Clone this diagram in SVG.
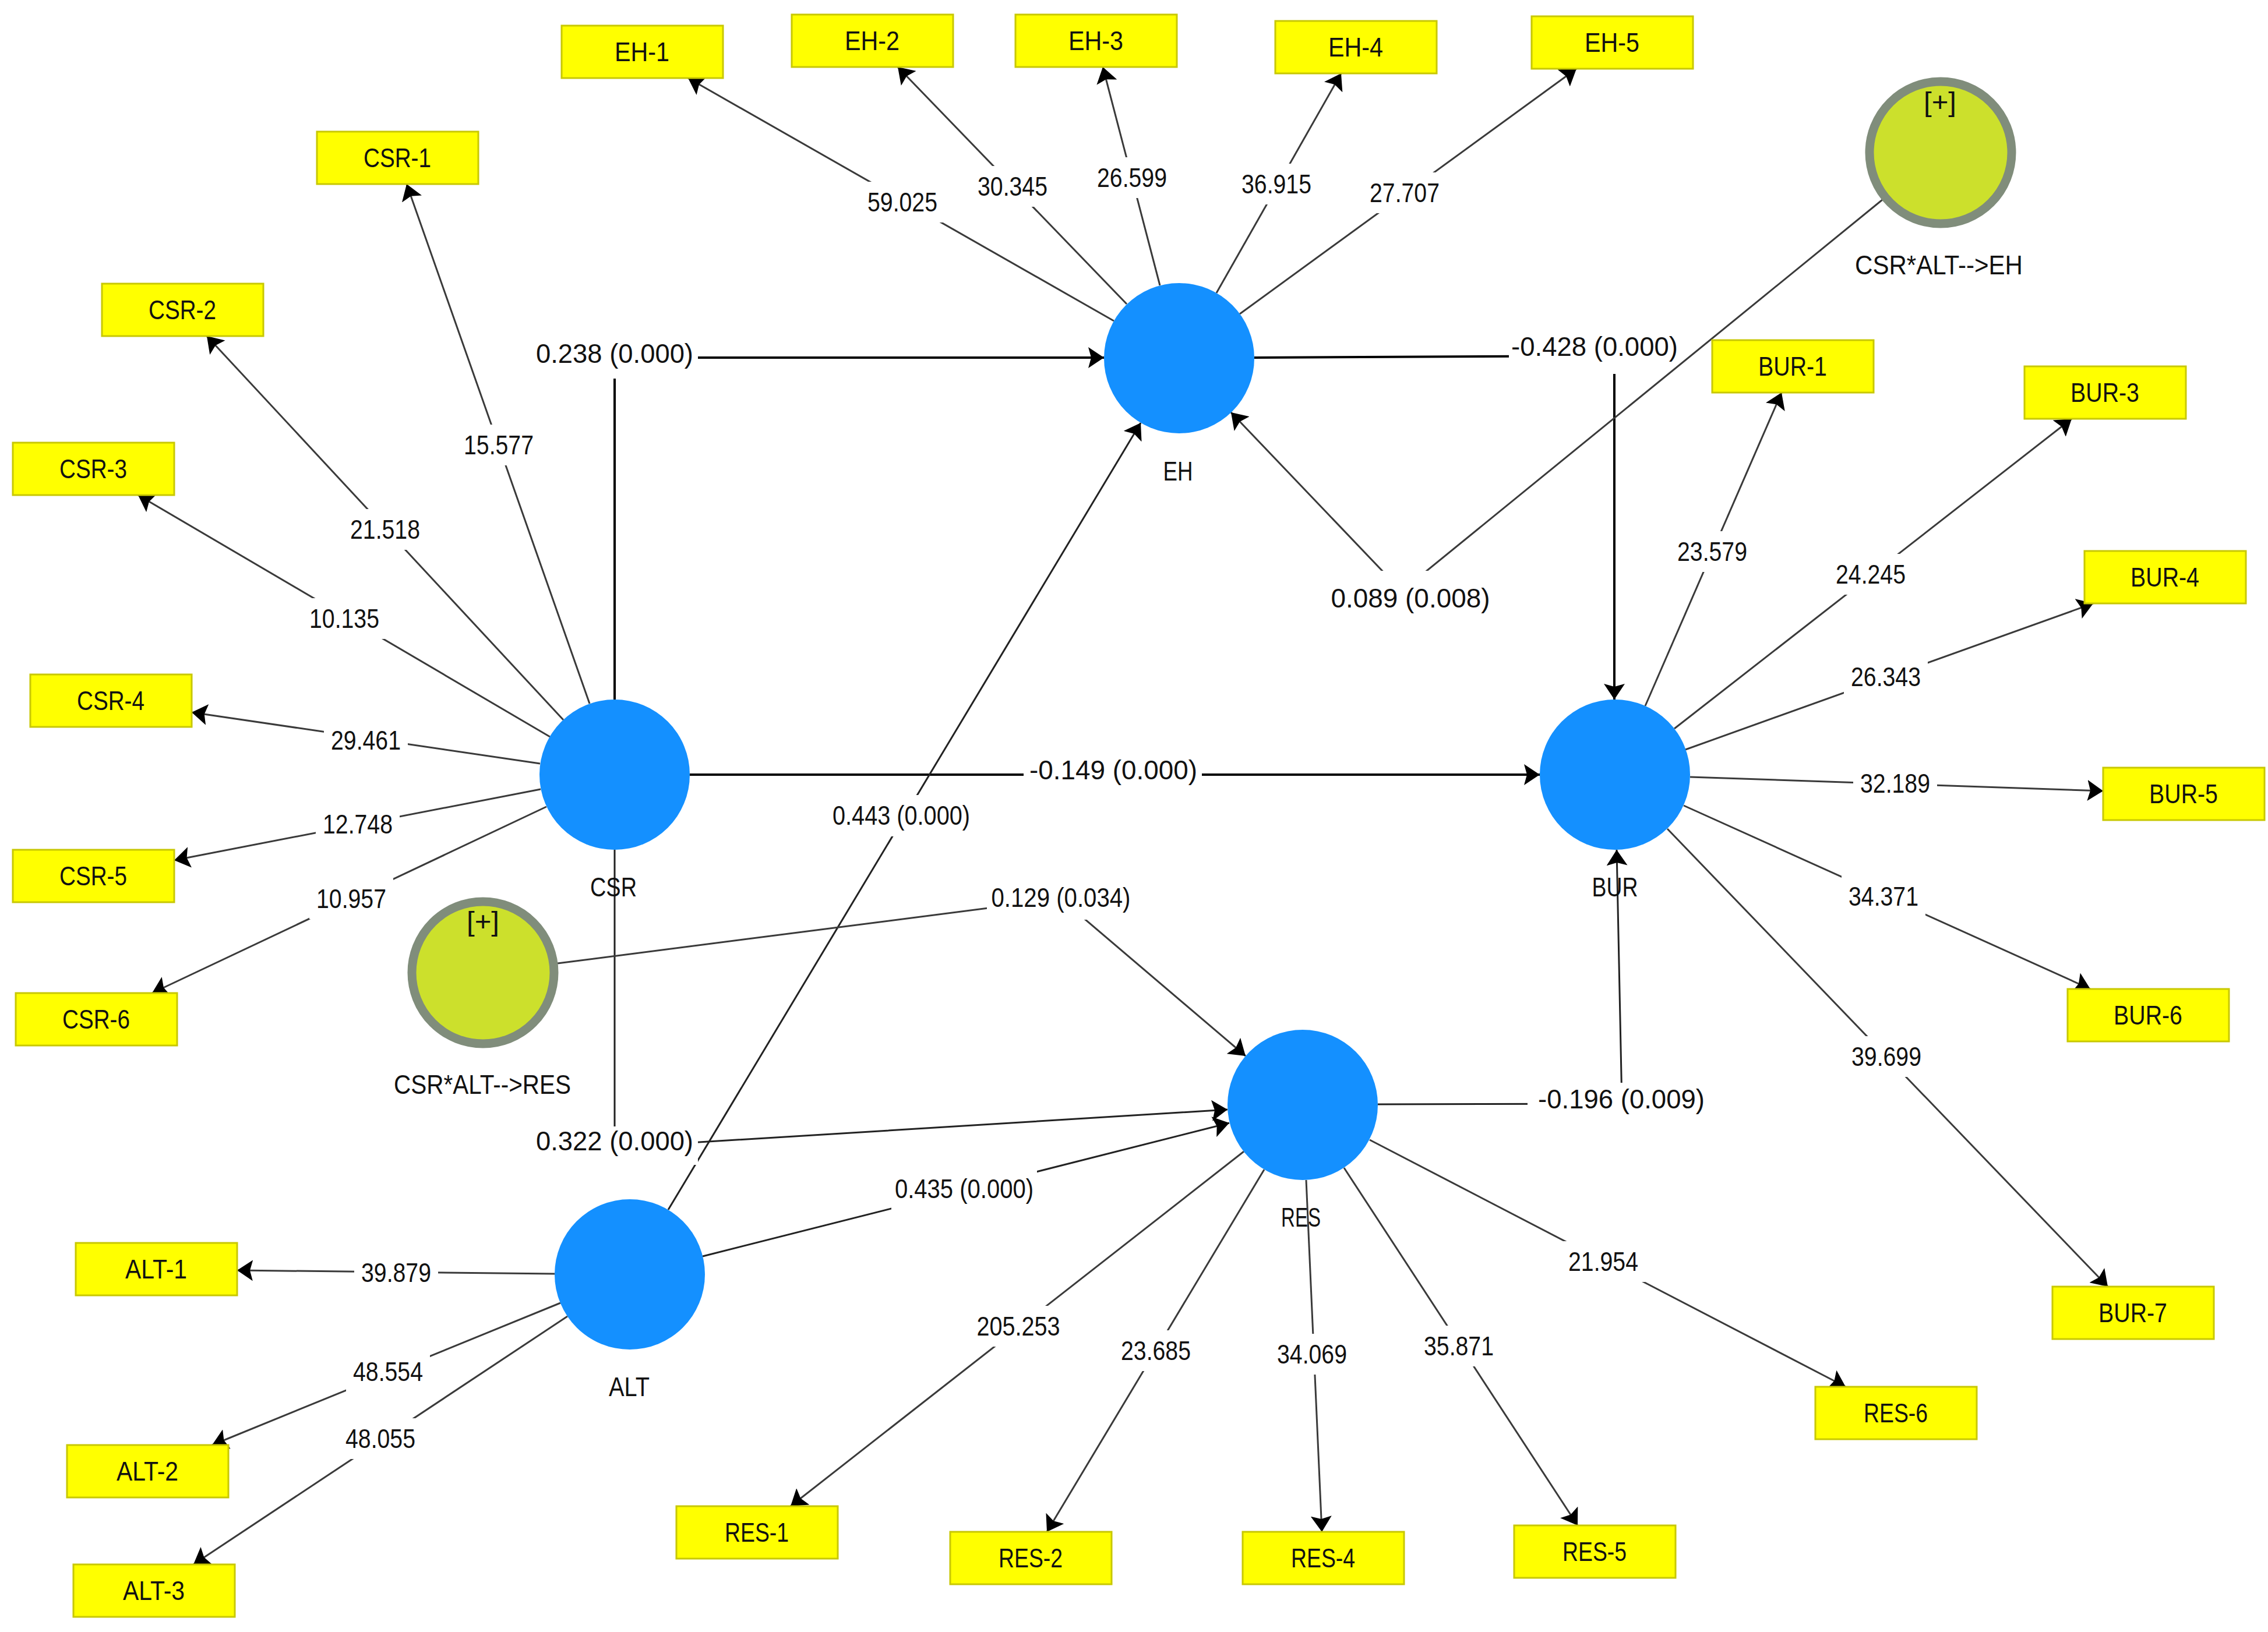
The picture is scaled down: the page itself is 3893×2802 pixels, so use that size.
<svg xmlns="http://www.w3.org/2000/svg" width="3893" height="2802" viewBox="0 0 3893 2802">
<defs>
<marker id="arr" viewBox="0 0 27 36" refX="27" refY="18" markerWidth="27" markerHeight="36" markerUnits="userSpaceOnUse" orient="auto"><path d="M0,0 L27,18 L0,36 L5,18 z" fill="#000"/></marker>
<style>
.ld{stroke:#3a3a3a;stroke-width:3;fill:none;marker-end:url(#arr)}
.pt{stroke:#000;stroke-width:4;fill:none;marker-end:url(#arr)}
.pt3{stroke:#222;stroke-width:3;fill:none;marker-end:url(#arr)}
.bg{fill:#fff}
.box{fill:#ffff00;stroke:#c8c800;stroke-width:3}
.lv{fill:#1490ff}
.ia{fill:#cce02c;stroke:#808d7b;stroke-width:15}
text{font-family:"Liberation Sans",Arial,sans-serif;font-size:46px;fill:#111;text-anchor:middle}
</style>
</defs>
<rect width="3893" height="2802" fill="#fff"/>

<g id="connectors">
<line class="ld" x1="1012" y1="1208" x2="698" y2="316"/>
<line class="ld" x1="967" y1="1236" x2="355" y2="577"/>
<line class="ld" x1="944" y1="1265" x2="237" y2="850"/>
<line class="ld" x1="927" y1="1311" x2="329" y2="1223"/>
<line class="ld" x1="928" y1="1355" x2="299" y2="1477"/>
<line class="ld" x1="938" y1="1385" x2="261" y2="1705"/>
<line class="ld" x1="1912" y1="551" x2="1181" y2="134"/>
<line class="ld" x1="1934" y1="522" x2="1541" y2="115"/>
<line class="ld" x1="1991" y1="490" x2="1893" y2="115"/>
<line class="ld" x1="2088" y1="503" x2="2302" y2="126"/>
<line class="ld" x1="2128" y1="539" x2="2706" y2="118"/>
<line class="ld" x1="2824" y1="1212" x2="3058" y2="674"/>
<line class="ld" x1="2874" y1="1251" x2="3556" y2="719"/>
<line class="ld" x1="2893" y1="1287" x2="3593" y2="1036"/>
<line class="ld" x1="2901" y1="1334" x2="3610" y2="1358"/>
<line class="ld" x1="2890" y1="1383" x2="3588" y2="1698"/>
<line class="ld" x1="2862" y1="1423" x2="3618" y2="2209"/>
<line class="ld" x1="2135" y1="1977" x2="1357" y2="2586"/>
<line class="ld" x1="2170" y1="2008" x2="1797" y2="2630"/>
<line class="ld" x1="2242" y1="2026" x2="2269" y2="2630"/>
<line class="ld" x1="2307" y1="2005" x2="2708" y2="2619"/>
<line class="ld" x1="2351" y1="1957" x2="3168" y2="2381"/>
<line class="ld" x1="952" y1="2187" x2="407" y2="2181"/>
<line class="ld" x1="962" y1="2237" x2="364" y2="2481"/>
<line class="ld" x1="974" y1="2260" x2="332" y2="2686"/>

<polyline class="pt" points="1055,1201 1055,614 1895,614"/>
<line class="pt" x1="1184" y1="1330" x2="2643" y2="1330"/>
<polyline class="pt" points="2153,614 2771,611 2771,1201"/>
<polyline class="pt3" points="1055,1459 1055,1970 2107,1905"/>
<polyline class="pt3" points="2365,1896 2784,1895 2775,1459"/>
<line class="pt3" x1="1147" y1="2077" x2="1958" y2="726"/>
<line class="pt3" x1="1206" y1="2157" x2="2110" y2="1928"/>
<polyline class="ld" points="3231,343 2406,1015 2113,708"/>
<polyline class="ld" points="957,1654 1821,1543 2138,1813"/>
</g>

<g id="edge-labels">
<rect class="bg" x="784" y="729" width="144" height="70"/><text x="856" y="780" textLength="120" lengthAdjust="spacingAndGlyphs">15.577</text>
<rect class="bg" x="589" y="874" width="144" height="70"/><text x="661" y="925" textLength="120" lengthAdjust="spacingAndGlyphs">21.518</text>
<rect class="bg" x="519" y="1027" width="144" height="70"/><text x="591" y="1078" textLength="120" lengthAdjust="spacingAndGlyphs">10.135</text>
<rect class="bg" x="556" y="1236" width="144" height="70"/><text x="628" y="1287" textLength="120" lengthAdjust="spacingAndGlyphs">29.461</text>
<rect class="bg" x="542" y="1380" width="144" height="70"/><text x="614" y="1431" textLength="120" lengthAdjust="spacingAndGlyphs">12.748</text>
<rect class="bg" x="531" y="1508" width="144" height="70"/><text x="603" y="1559" textLength="120" lengthAdjust="spacingAndGlyphs">10.957</text>
<rect class="bg" x="1477" y="312" width="144" height="70"/><text x="1549" y="363" textLength="120" lengthAdjust="spacingAndGlyphs">59.025</text>
<rect class="bg" x="1666" y="285" width="144" height="70"/><text x="1738" y="336" textLength="120" lengthAdjust="spacingAndGlyphs">30.345</text>
<rect class="bg" x="1871" y="270" width="144" height="70"/><text x="1943" y="321" textLength="120" lengthAdjust="spacingAndGlyphs">26.599</text>
<rect class="bg" x="2119" y="281" width="144" height="70"/><text x="2191" y="332" textLength="120" lengthAdjust="spacingAndGlyphs">36.915</text>
<rect class="bg" x="2339" y="296" width="144" height="70"/><text x="2411" y="347" textLength="120" lengthAdjust="spacingAndGlyphs">27.707</text>
<rect class="bg" x="2867" y="912" width="144" height="70"/><text x="2939" y="963" textLength="120" lengthAdjust="spacingAndGlyphs">23.579</text>
<rect class="bg" x="3139" y="951" width="144" height="70"/><text x="3211" y="1002" textLength="120" lengthAdjust="spacingAndGlyphs">24.245</text>
<rect class="bg" x="3165" y="1127" width="144" height="70"/><text x="3237" y="1178" textLength="120" lengthAdjust="spacingAndGlyphs">26.343</text>
<rect class="bg" x="3181" y="1310" width="144" height="70"/><text x="3253" y="1361" textLength="120" lengthAdjust="spacingAndGlyphs">32.189</text>
<rect class="bg" x="3161" y="1504" width="144" height="70"/><text x="3233" y="1555" textLength="120" lengthAdjust="spacingAndGlyphs">34.371</text>
<rect class="bg" x="3166" y="1779" width="144" height="70"/><text x="3238" y="1830" textLength="120" lengthAdjust="spacingAndGlyphs">39.699</text>
<rect class="bg" x="1664" y="2242" width="167" height="70"/><text x="1748" y="2293" textLength="143" lengthAdjust="spacingAndGlyphs">205.253</text>
<rect class="bg" x="1912" y="2284" width="144" height="70"/><text x="1984" y="2335" textLength="120" lengthAdjust="spacingAndGlyphs">23.685</text>
<rect class="bg" x="2180" y="2290" width="144" height="70"/><text x="2252" y="2341" textLength="120" lengthAdjust="spacingAndGlyphs">34.069</text>
<rect class="bg" x="2432" y="2276" width="144" height="70"/><text x="2504" y="2327" textLength="120" lengthAdjust="spacingAndGlyphs">35.871</text>
<rect class="bg" x="2680" y="2131" width="144" height="70"/><text x="2752" y="2182" textLength="120" lengthAdjust="spacingAndGlyphs">21.954</text>
<rect class="bg" x="608" y="2150" width="144" height="70"/><text x="680" y="2201" textLength="120" lengthAdjust="spacingAndGlyphs">39.879</text>
<rect class="bg" x="594" y="2320" width="144" height="70"/><text x="666" y="2371" textLength="120" lengthAdjust="spacingAndGlyphs">48.554</text>
<rect class="bg" x="581" y="2435" width="144" height="70"/><text x="653" y="2486" textLength="120" lengthAdjust="spacingAndGlyphs">48.055</text>

<rect class="bg" x="914" y="570" width="284" height="80"/><text x="1055" y="623" textLength="270" lengthAdjust="spacingAndGlyphs">0.238 (0.000)</text>
<rect class="bg" x="1757" y="1290" width="306" height="72"/><text x="1911" y="1338" textLength="288" lengthAdjust="spacingAndGlyphs">-0.149 (0.000)</text>
<rect class="bg" x="1423" y="1365" width="248" height="71"/><text x="1547" y="1416" textLength="236" lengthAdjust="spacingAndGlyphs">0.443 (0.000)</text>
<rect class="bg" x="1694" y="1507" width="254" height="72"/><text x="1821" y="1557" textLength="239" lengthAdjust="spacingAndGlyphs">0.129 (0.034)</text>
<rect class="bg" x="914" y="1934" width="284" height="66"/><text x="1055" y="1975" textLength="270" lengthAdjust="spacingAndGlyphs">0.322 (0.000)</text>
<rect class="bg" x="1530" y="2008" width="250" height="70"/><text x="1655" y="2057" textLength="238" lengthAdjust="spacingAndGlyphs">0.435 (0.000)</text>
<rect class="bg" x="2590" y="570" width="210" height="72"/><text x="2737" y="611" textLength="286" lengthAdjust="spacingAndGlyphs">-0.428 (0.000)</text>
<rect class="bg" x="2278" y="980" width="284" height="90"/><text x="2421" y="1043" textLength="273" lengthAdjust="spacingAndGlyphs">0.089 (0.008)</text>
<rect class="bg" x="2622" y="1859" width="314" height="66"/><text x="2783" y="1903" textLength="286" lengthAdjust="spacingAndGlyphs">-0.196 (0.009)</text>
</g>

<g id="CSR"><circle class="lv" cx="1055" cy="1330" r="129"/><text x="1053" y="1539" textLength="80" lengthAdjust="spacingAndGlyphs">CSR</text></g>
<g id="EH"><circle class="lv" cx="2024" cy="615" r="129"/><text x="2022" y="825" textLength="51" lengthAdjust="spacingAndGlyphs">EH</text></g>
<g id="BUR"><circle class="lv" cx="2772" cy="1330" r="129"/><text x="2772" y="1539" textLength="79" lengthAdjust="spacingAndGlyphs">BUR</text></g>
<g id="RES"><circle class="lv" cx="2236" cy="1897" r="129"/><text x="2233" y="2106" textLength="68" lengthAdjust="spacingAndGlyphs">RES</text></g>
<g id="ALT"><circle class="lv" cx="1081" cy="2188" r="129"/><text x="1080" y="2397" textLength="70" lengthAdjust="spacingAndGlyphs">ALT</text></g>
<g id="CSR_ALT_EH"><circle class="ia" cx="3331" cy="262" r="122"/><text x="3330" y="191" textLength="56" lengthAdjust="spacingAndGlyphs">[+]</text><text x="3328" y="471" textLength="288" lengthAdjust="spacingAndGlyphs">CSR*ALT--&gt;EH</text></g>
<g id="CSR_ALT_RES"><circle class="ia" cx="829" cy="1670" r="122"/><text x="829" y="1598" textLength="56" lengthAdjust="spacingAndGlyphs">[+]</text><text x="828" y="1878" textLength="304" lengthAdjust="spacingAndGlyphs">CSR*ALT--&gt;RES</text></g>

<g id="CSR-1"><rect class="box" x="544" y="226" width="277" height="90"/><text x="682" y="287" textLength="116" lengthAdjust="spacingAndGlyphs">CSR-1</text></g>
<g id="CSR-2"><rect class="box" x="175" y="487" width="277" height="90"/><text x="313" y="548" textLength="116" lengthAdjust="spacingAndGlyphs">CSR-2</text></g>
<g id="CSR-3"><rect class="box" x="22" y="760" width="277" height="90"/><text x="160" y="821" textLength="116" lengthAdjust="spacingAndGlyphs">CSR-3</text></g>
<g id="CSR-4"><rect class="box" x="52" y="1158" width="277" height="90"/><text x="190" y="1219" textLength="116" lengthAdjust="spacingAndGlyphs">CSR-4</text></g>
<g id="CSR-5"><rect class="box" x="22" y="1459" width="277" height="90"/><text x="160" y="1520" textLength="116" lengthAdjust="spacingAndGlyphs">CSR-5</text></g>
<g id="CSR-6"><rect class="box" x="27" y="1705" width="277" height="90"/><text x="165" y="1766" textLength="116" lengthAdjust="spacingAndGlyphs">CSR-6</text></g>
<g id="EH-1"><rect class="box" x="964" y="44" width="277" height="90"/><text x="1102" y="105" textLength="94" lengthAdjust="spacingAndGlyphs">EH-1</text></g>
<g id="EH-2"><rect class="box" x="1359" y="25" width="277" height="90"/><text x="1497" y="86" textLength="94" lengthAdjust="spacingAndGlyphs">EH-2</text></g>
<g id="EH-3"><rect class="box" x="1743" y="25" width="277" height="90"/><text x="1881" y="86" textLength="94" lengthAdjust="spacingAndGlyphs">EH-3</text></g>
<g id="EH-4"><rect class="box" x="2189" y="36" width="277" height="90"/><text x="2327" y="97" textLength="94" lengthAdjust="spacingAndGlyphs">EH-4</text></g>
<g id="EH-5"><rect class="box" x="2629" y="28" width="277" height="90"/><text x="2767" y="89" textLength="94" lengthAdjust="spacingAndGlyphs">EH-5</text></g>
<g id="BUR-1"><rect class="box" x="2939" y="584" width="277" height="90"/><text x="3077" y="645" textLength="118" lengthAdjust="spacingAndGlyphs">BUR-1</text></g>
<g id="BUR-3"><rect class="box" x="3475" y="629" width="277" height="90"/><text x="3613" y="690" textLength="118" lengthAdjust="spacingAndGlyphs">BUR-3</text></g>
<g id="BUR-4"><rect class="box" x="3578" y="946" width="277" height="90"/><text x="3716" y="1007" textLength="118" lengthAdjust="spacingAndGlyphs">BUR-4</text></g>
<g id="BUR-5"><rect class="box" x="3610" y="1318" width="277" height="90"/><text x="3748" y="1379" textLength="118" lengthAdjust="spacingAndGlyphs">BUR-5</text></g>
<g id="BUR-6"><rect class="box" x="3549" y="1698" width="277" height="90"/><text x="3687" y="1759" textLength="118" lengthAdjust="spacingAndGlyphs">BUR-6</text></g>
<g id="BUR-7"><rect class="box" x="3523" y="2209" width="277" height="90"/><text x="3661" y="2270" textLength="118" lengthAdjust="spacingAndGlyphs">BUR-7</text></g>
<g id="RES-1"><rect class="box" x="1161" y="2586" width="277" height="90"/><text x="1299" y="2647" textLength="110" lengthAdjust="spacingAndGlyphs">RES-1</text></g>
<g id="RES-2"><rect class="box" x="1631" y="2630" width="277" height="90"/><text x="1769" y="2691" textLength="110" lengthAdjust="spacingAndGlyphs">RES-2</text></g>
<g id="RES-4"><rect class="box" x="2133" y="2630" width="277" height="90"/><text x="2271" y="2691" textLength="110" lengthAdjust="spacingAndGlyphs">RES-4</text></g>
<g id="RES-5"><rect class="box" x="2599" y="2619" width="277" height="90"/><text x="2737" y="2680" textLength="110" lengthAdjust="spacingAndGlyphs">RES-5</text></g>
<g id="RES-6"><rect class="box" x="3116" y="2381" width="277" height="90"/><text x="3254" y="2442" textLength="110" lengthAdjust="spacingAndGlyphs">RES-6</text></g>
<g id="ALT-1"><rect class="box" x="130" y="2134" width="277" height="90"/><text x="268" y="2195" textLength="106" lengthAdjust="spacingAndGlyphs">ALT-1</text></g>
<g id="ALT-2"><rect class="box" x="115" y="2481" width="277" height="90"/><text x="253" y="2542" textLength="106" lengthAdjust="spacingAndGlyphs">ALT-2</text></g>
<g id="ALT-3"><rect class="box" x="126" y="2686" width="277" height="90"/><text x="264" y="2747" textLength="106" lengthAdjust="spacingAndGlyphs">ALT-3</text></g>
</svg>
